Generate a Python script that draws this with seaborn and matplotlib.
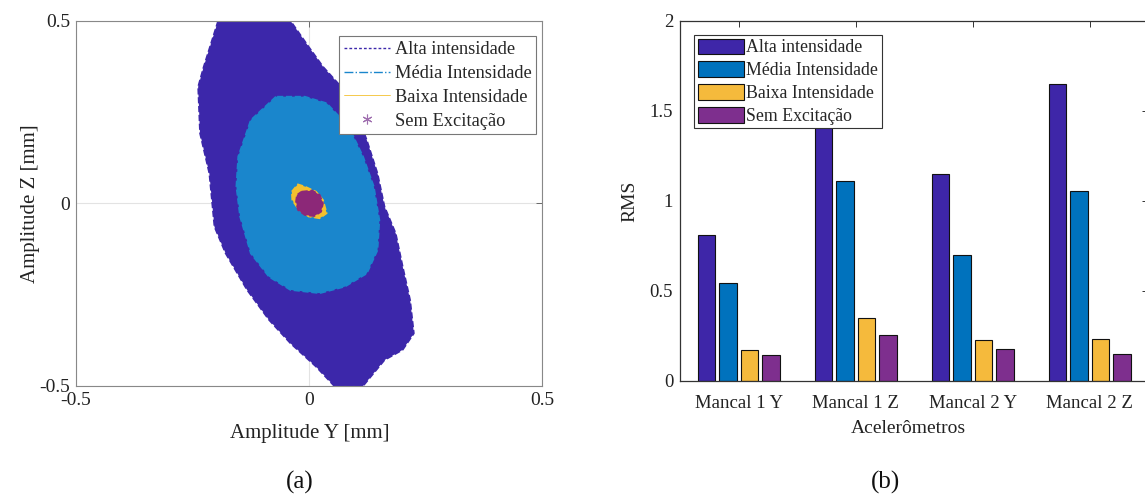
import matplotlib
matplotlib.use("Agg")
import matplotlib.pyplot as plt
from matplotlib.lines import Line2D
import seaborn as sns
import pandas as pd

# ---------------- data ----------------
# (a) orbit clouds: outline points (Y, Z) in mm
alta_y = [-0.195, -0.226, -0.238, -0.234, -0.214, -0.203, -0.179, -0.133, -0.086, -0.040,
          0.015, 0.054, 0.116, 0.162, 0.201, 0.225, 0.217, 0.201, 0.186, 0.162,
          0.147, 0.124, 0.100, 0.069, 0.030, -0.001, -0.040]
alta_z = [0.500, 0.374, 0.319, 0.192, 0.082, -0.064, -0.137, -0.237, -0.319, -0.383,
          -0.447, -0.500, -0.500, -0.429, -0.401, -0.356, -0.265, -0.173, -0.082, -0.009,
          0.082, 0.173, 0.255, 0.319, 0.374, 0.429, 0.500]
media_y = [-0.071, -0.125, -0.152, -0.156, -0.148, -0.125, -0.086, -0.040, 0.023, 0.077,
           0.124, 0.147, 0.151, 0.139, 0.116, 0.085, 0.038, -0.009]
media_z = [0.292, 0.228, 0.128, 0.046, -0.036, -0.137, -0.201, -0.237, -0.246, -0.228,
           -0.192, -0.128, -0.046, 0.046, 0.128, 0.210, 0.274, 0.292]
baixa_y = [-0.037, -0.024, -0.009, 0.015, 0.030, 0.038, 0.023, -0.001, -0.024, -0.036]
baixa_z = [0.032, 0.052, 0.046, 0.032, 0.009, -0.027, -0.041, -0.036, -0.014, 0.009]
sem_y = [-0.016, 0.007, 0.023, 0.030, 0.026, 0.011, -0.009, -0.024, -0.028, -0.026]
sem_z = [0.032, 0.035, 0.023, 0.000, -0.023, -0.035, -0.032, -0.018, 0.005, 0.023]

# (b) RMS bars
categories = ["Mancal 1 Y", "Mancal 1 Z", "Mancal 2 Y", "Mancal 2 Z"]
series = ["Alta intensidade", "Média Intensidade", "Baixa Intensidade", "Sem Excitação"]
rms_alta = [0.811, 1.45, 1.149, 1.651]
rms_media = [0.543, 1.108, 0.700, 1.053]
rms_baixa = [0.170, 0.349, 0.227, 0.233]
rms_sem = [0.142, 0.253, 0.179, 0.151]

# ---------------- style ----------------
sns.set_theme(style="white")
plt.rcParams["font.family"] = ["Liberation Serif", "DejaVu Serif"]
plt.rcParams["axes.unicode_minus"] = False
plt.rcParams["xtick.direction"] = "in"
plt.rcParams["ytick.direction"] = "in"

orbit_cols = ["#3C27AA", "#1A86CC", "#F4C02E", "#8C2878"]
bar_cols = ["#3E26A8", "#0072BD", "#F5BA3C", "#7E2F8E"]

fig = plt.figure(figsize=(11.45, 4.96), dpi=100)
ax1 = fig.add_axes([0.0664, 0.2218, 0.407, 0.7365])
ax2 = fig.add_axes([0.594, 0.2319, 0.409, 0.7264])

# ---------------- (a) ----------------
clouds = [(alta_y, alta_z), (media_y, media_z), (baixa_y, baixa_z), (sem_y, sem_z)]
for (yy, zz), c in zip(clouds, orbit_cols):
    ax1.fill(yy, zz, color=c, lw=0, zorder=2)
    dfo = pd.DataFrame({"y": yy + yy[:1], "z": zz + zz[:1]})
    sns.lineplot(data=dfo, x="y", y="z", sort=False, estimator=None, ax=ax1,
                 color=c, lw=1.2, linestyle="--", zorder=2)

ax1.set_xlim(-0.5, 0.5)
ax1.set_ylim(-0.5, 0.5)
ax1.set_xticks([-0.5, 0, 0.5])
ax1.set_yticks([-0.5, 0, 0.5])
ax1.set_xticklabels(["-0.5", "0", "0.5"])
ax1.set_yticklabels(["-0.5", "0", "0.5"])
ax1.grid(True, color="#e3e3e3", lw=0.8)
ax1.set_axisbelow(True)
ax1.tick_params(labelsize=14, colors="#555555", labelcolor="#222222", length=4, width=0.6,
                top=True, right=True, pad=4)
for s in ax1.spines.values():
    s.set_color("#888888")
    s.set_linewidth(0.8)
ax1.set_xlabel("Amplitude Y [mm]", fontsize=15, color="#222222")
ax1.set_ylabel("Amplitude Z [mm]", fontsize=15, color="#222222")
ax1.xaxis.set_label_coords(0.502, -0.104)
ax1.yaxis.set_label_coords(-0.077, 0.5)

h1 = [Line2D([], [], color=orbit_cols[0], ls=(0, (2, 1.5)), lw=1.0),
      Line2D([], [], color=orbit_cols[1], ls="-.", lw=1.0),
      Line2D([], [], color=orbit_cols[2], ls="-", lw=0.6),
      Line2D([], [], color="#A070B0", ls="none", marker=(6, 2, 0), markersize=7, mew=0.8)]
leg1 = ax1.legend(h1, series, loc="upper right", bbox_to_anchor=(0.988, 0.957),
                  fontsize=13.2, frameon=True, fancybox=False, edgecolor="#777777",
                  framealpha=1, borderpad=0.25, handlelength=2.5, handletextpad=0.3,
                  labelspacing=0.38, borderaxespad=0)
leg1.get_frame().set_linewidth(0.8)

# ---------------- (b) ----------------
df = pd.DataFrame({
    "cat": categories * 4,
    "serie": [s for s in series for _ in categories],
    "rms": rms_alta + rms_media + rms_baixa + rms_sem,
})
sns.barplot(data=df, x="cat", y="rms", hue="serie", hue_order=series, order=categories,
            palette=bar_cols, width=0.733, gap=0.19, saturation=1, edgecolor="#111111",
            linewidth=0.8, ax=ax2, errorbar=None)
ax2.set_xlim(-0.5, 3.5)
ax2.set_ylim(0, 2)
ax2.set_yticks([0, 0.5, 1, 1.5, 2])
ax2.set_yticklabels(["0", "0.5", "1", "1.5", "2"])
ax2.tick_params(labelsize=13.5, colors="#333333", labelcolor="#222222", length=4, width=0.7,
                top=True, right=True, pad=5)
ax2.tick_params(axis="x", pad=10)
for s in ax2.spines.values():
    s.set_color("#333333")
    s.set_linewidth(0.9)
ax2.set_xlabel("Acelerômetros", fontsize=14, color="#222222")
ax2.set_ylabel("RMS", fontsize=14, color="#222222")
ax2.xaxis.set_label_coords(0.487, -0.108)
ax2.yaxis.set_label_coords(-0.0896, 0.5)

handles, labels = ax2.get_legend_handles_labels()
leg2 = ax2.legend(handles, labels, loc="upper left", bbox_to_anchor=(0.030, 0.960),
                  fontsize=12.8, frameon=True, fancybox=False, edgecolor="#333333",
                  framealpha=1, borderpad=0.2, handlelength=2.6, handleheight=0.96,
                  handletextpad=0.12, labelspacing=0.28, borderaxespad=0)
leg2.get_frame().set_linewidth(0.8)

fig.text(300 / 1145, 1 - 482 / 496, "(a)", fontsize=18, ha="center", va="center", color="#111111")
fig.text(885 / 1145, 1 - 482 / 496, "(b)", fontsize=18, ha="center", va="center", color="#111111")

fig.savefig("out.png", dpi=100)
